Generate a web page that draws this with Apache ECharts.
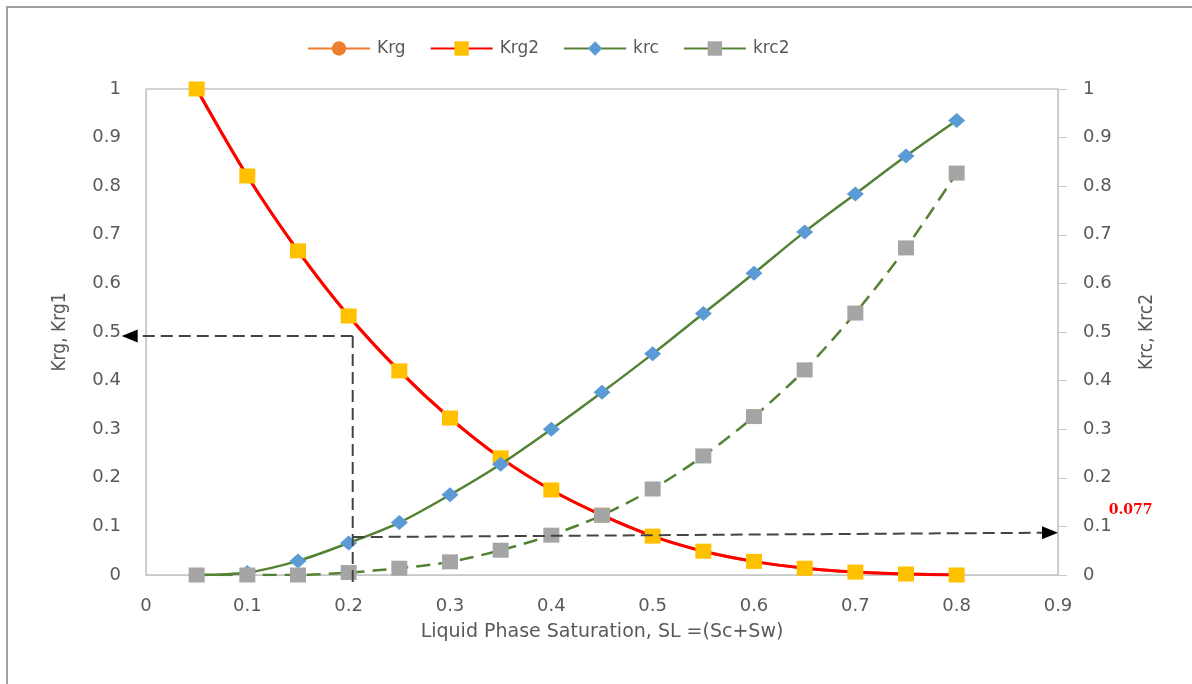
<!DOCTYPE html>
<html>
<head>
<meta charset="utf-8">
<script src="https://cdn.jsdelivr.net/npm/echarts@6/dist/echarts.min.js"></script>
<style>html,body{margin:0;padding:0;background:#fff;}#c{width:1192px;height:684px;}</style>
</head>
<body>
<div id="c"></div>
<script>
// ---- data ----
const sl = [0.05,0.1,0.15,0.2,0.25,0.3,0.35,0.4,0.45,0.5,0.55,0.6,0.65,0.7,0.75,0.8];
const krg  = [1.0,0.821,0.667,0.533,0.420,0.323,0.241,0.175,0.123,0.080,0.049,0.028,0.014,0.006,0.002,0.0];
const krg2 = [1.0,0.821,0.667,0.533,0.420,0.323,0.241,0.175,0.123,0.080,0.049,0.028,0.014,0.006,0.002,0.0];
const krc  = [0.0,0.005,0.029,0.066,0.108,0.165,0.228,0.300,0.376,0.455,0.538,0.621,0.706,0.784,0.862,0.935];
const krc2 = [0.0,0.0,0.0,0.005,0.014,0.027,0.051,0.082,0.123,0.177,0.245,0.326,0.422,0.539,0.673,0.827];
const legendNames = ['Krg','Krg2','krc','krc2'];
// annotation (reading guide) in data units
const guideX = 0.204;
const guideTopY = 0.492;
const guideLeftX = -0.024;
const guideBottomY = -0.018;
const readStart = [0.204, 0.078];
const readEnd = [0.9, 0.087];
const readLabel = '0.077';
const readLabelPos = [0.95, 0.134];

const pair = arr => sl.map((x,i)=>[x,arr[i]]);
const txt = '#595959';
const font = 'DejaVu Sans';
const fmt = v => String(+v.toFixed(1));

const chart = echarts.init(document.getElementById('c'), null, {renderer:'canvas'});

function arrowHead(tip, dir){ // dir: -1 left, +1 right
  const L = 16, H = 6.5;
  return {type:'polygon', shape:{points:[tip,[tip[0]-dir*L, tip[1]-H],[tip[0]-dir*L, tip[1]+H]]}, style:{fill:'#000'}};
}

chart.setOption({
  animation:false,
  backgroundColor:'#fff',
  textStyle:{fontFamily:font},
  graphic:[{type:'rect', shape:{x:7, y:7, width:1300, height:800}, style:{fill:'none', stroke:'#a0a0a0', lineWidth:2}, silent:true, z:-10}],
  legend:{
    top:35, left:302, itemGap:24, itemWidth:62, itemHeight:18,
    textStyle:{color:txt, fontSize:17, fontFamily:font, padding:[0,0,0,2]},
    data:[legendNames[0], legendNames[1], legendNames[2], {name:legendNames[3], lineStyle:{type:'solid'}}]
  },
  grid:{left:146, right:134, top:89, bottom:109, show:true, borderColor:'#a6a6a6', borderWidth:1, containLabel:false},
  xAxis:{
    type:'value', min:0, max:0.9, interval:0.1,
    name:'Liquid Phase Saturation, SL =(Sc+Sw)', nameLocation:'middle', nameGap:48,
    nameTextStyle:{color:txt, fontSize:19, fontFamily:font},
    axisLine:{show:true, onZero:false, lineStyle:{color:'#c8c8c8'}},
    axisTick:{show:false},
    axisLabel:{color:txt, fontSize:18, margin:22, fontFamily:font, formatter:fmt},
    splitLine:{show:false}
  },
  yAxis:[{
    type:'value', min:0, max:1, interval:0.1, position:'left',
    name:'Krg, Krg1', nameLocation:'middle', nameGap:76,
    nameTextStyle:{color:txt, fontSize:19, fontFamily:'"DejaVu Sans Condensed", "Liberation Sans Narrow", "DejaVu Sans"'},
    axisLine:{show:true, lineStyle:{color:'#c8c8c8'}},
    axisTick:{show:false},
    axisLabel:{color:txt, fontSize:18, margin:25, fontFamily:font, formatter:fmt},
    splitLine:{show:false}
  },{
    type:'value', min:0, max:1, interval:0.1, position:'right',
    name:'Krc, Krc2', nameLocation:'middle', nameGap:80,
    nameTextStyle:{color:txt, fontSize:19, fontFamily:'"DejaVu Sans Condensed", "Liberation Sans Narrow", "DejaVu Sans"'},
    axisLine:{show:true, lineStyle:{color:'#c8c8c8'}},
    axisTick:{show:true, inside:false, length:9, lineStyle:{color:'#c8c8c8'}},
    axisLabel:{color:txt, fontSize:18, margin:25, fontFamily:font, formatter:fmt},
    splitLine:{show:false}
  }],
  series:[
    {name:'Krg', type:'line', data:pair(krg), smooth:0.3, symbol:'circle', symbolSize:12,
     lineStyle:{color:'#ED7D31', width:3}, itemStyle:{color:'#ED7D31'}, z:1},
    {name:'Krg2', type:'line', data:pair(krg2), smooth:0.3, symbol:'rect', symbolSize:[16,15],
     lineStyle:{color:'#FF0000', width:3}, itemStyle:{color:'#FFC000'}, z:2},
    {name:'krc', type:'line', yAxisIndex:1, data:pair(krc), smooth:0.3, symbol:'diamond', symbolSize:[17,15],
     lineStyle:{color:'#548235', width:2.5}, itemStyle:{color:'#5B9BD5'}, z:3},
    {name:'krc2', type:'line', yAxisIndex:1, data:pair(krc2), smooth:0.3, symbol:'rect', symbolSize:[16,15],
     lineStyle:{color:'#548235', width:2.5, type:[14,8]}, itemStyle:{color:'#A5A5A5'}, z:4},
    {name:'guide', type:'custom', z:10, clip:false, silent:true,
     data:[[guideX, guideTopY]],
     renderItem:function(params, api){
       const top = api.coord([guideX, guideTopY]);
       const left = api.coord([guideLeftX, guideTopY]);
       const bot = api.coord([guideX, guideBottomY]);
       const rs = api.coord(readStart);
       const re = api.coord(readEnd);
       const lp = api.coord(readLabelPos);
       const ls = {stroke:'#444444', lineWidth:2, lineDash:[12,6], fill:null};
       return {type:'group', children:[
         {type:'line', shape:{x1:top[0], y1:top[1], x2:left[0]+14, y2:left[1]}, style:ls},
         {type:'line', shape:{x1:top[0], y1:top[1], x2:bot[0], y2:bot[1]}, style:ls},
         {type:'line', shape:{x1:rs[0], y1:rs[1], x2:re[0]-14, y2:re[1]}, style:ls},
         arrowHead(left, -1),
         arrowHead(re, 1),
         {type:'text', x:lp[0], y:lp[1], style:{text:readLabel, fill:'#FF0000', font:'bold 14px "DejaVu Serif"', textAlign:'left', textVerticalAlign:'middle'}}
       ]};
     }
    }
  ]
});
</script>
</body>
</html>
